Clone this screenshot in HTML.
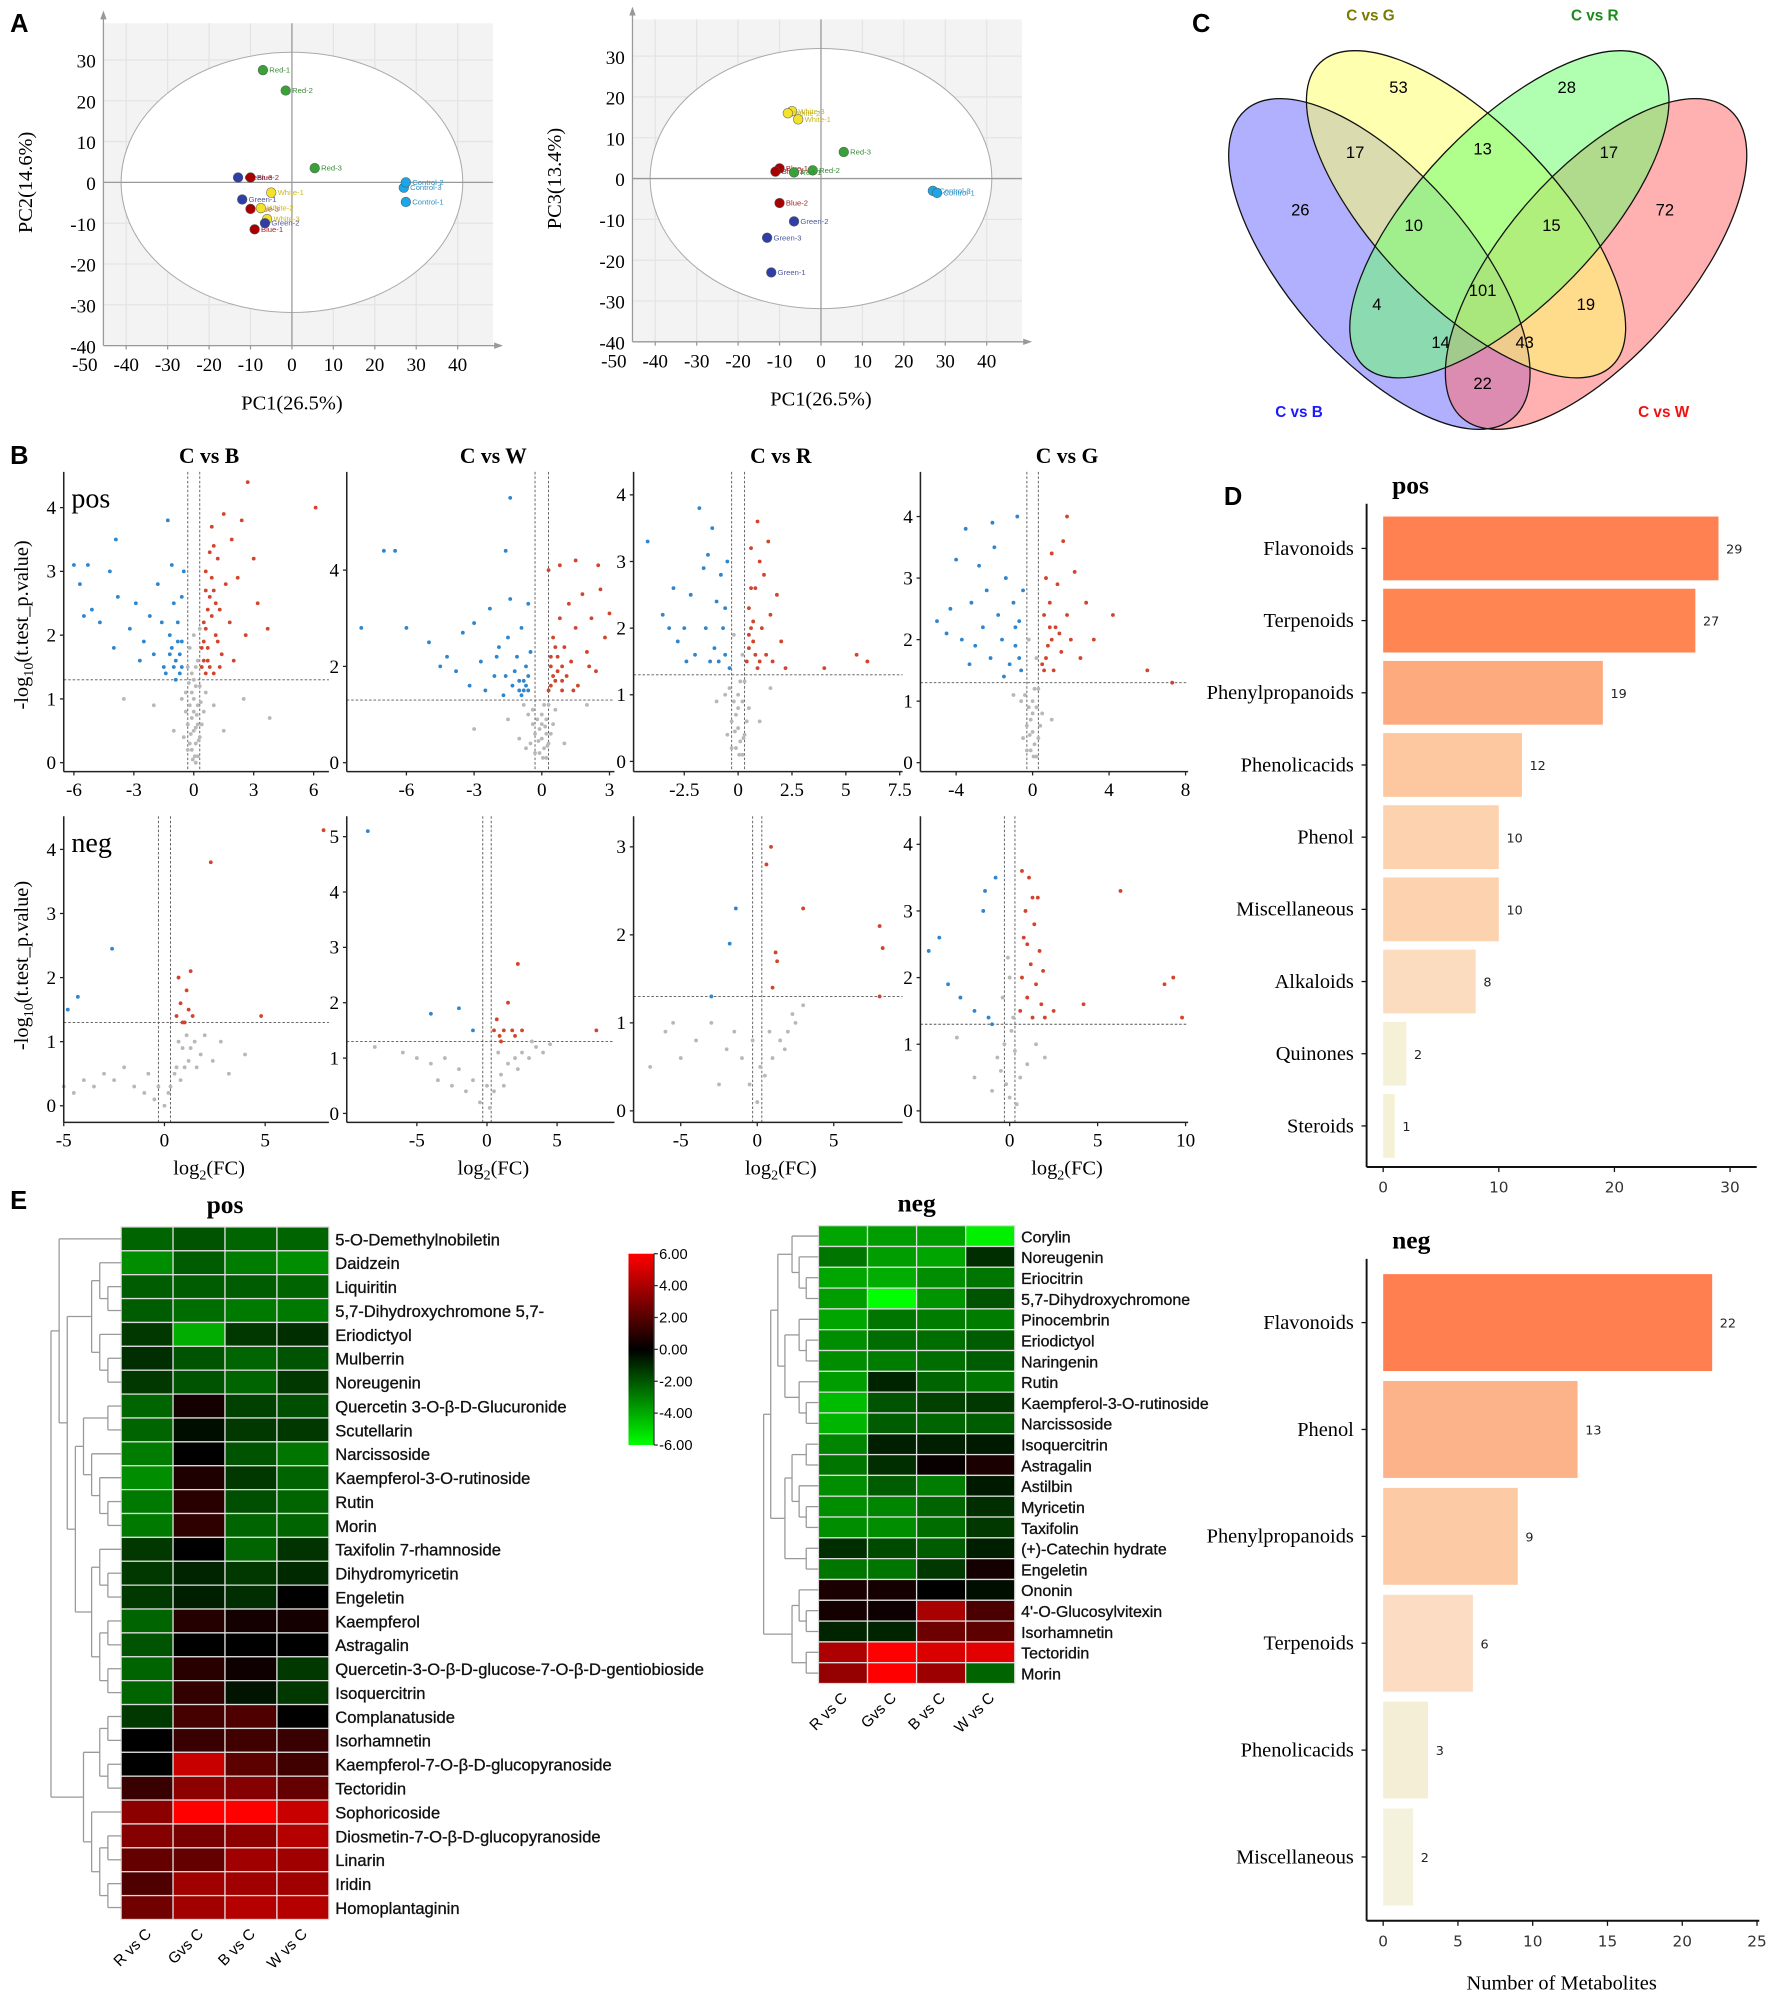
<!DOCTYPE html>
<html><head><meta charset="utf-8">
<style>
html,body{margin:0;padding:0;background:#fff;}
svg{display:block;}
</style></head>
<body>
<svg id="fig" width="1772" height="1996" viewBox="0 0 1390 1565" preserveAspectRatio="none" xmlns="http://www.w3.org/2000/svg">
<g id="root"></g>
</svg>
<script>
// ===== Panel A data =====
const pcaNames1 = ["Red-1","Red-2","Red-3","Green-3","Blue-2","Green-1","Blue-3","White-1","White-2","White-3","Green-2","Blue-1","Control-3","Control-2","Control-1"];
const pcaX1 = [-7,-1.5,5.5,-13,-10,-12,-10,-5,-7.5,-6,-6.5,-9,27,27.5,27.5];
const pcaY1 = [27.5,22.5,3.5,1.2,1.2,-4.2,-6.5,-2.5,-6.3,-9,-10,-11.5,-1.3,0,-4.8];
const pcaNames2 = ["White-3","White-2","White-1","Red-3","Red-2","Blue-1","Blue-3","Red-1","Blue-2","Green-2","Green-3","Green-1","Control-3","Control-1"];
const pcaX2 = [-7,-8,-5.5,5.5,-2,-10,-11,-6.5,-10,-6.5,-13,-12,27,28];
const pcaY2 = [16.5,16,14.5,6.5,2,2.5,1.7,1.5,-6,-10.5,-14.5,-23,-3,-3.5];

// ===== Panel C (Venn) counts =====
const vennCounts = [53,28,17,13,17,26,72,10,15,101,4,19,14,43,22];

// ===== Panel B volcano data (log2FC, -log10 p) =====
const vTB_up = [0.4,1.5,0.5,2.2,0.6,3.0,0.7,1.8,0.8,2.6,0.9,3.7,1,1.4,1.1,2.0,1.2,3.2,1.3,2.4,1.4,1.7,1.5,3.9,1.6,2.8,1.8,2.2,1.9,3.5,2,1.6,2.2,2.9,2.4,3.8,2.6,2.0,3,3.2,3.2,2.5,0.5,1.6,0.7,2.4,0.6,1.4,1,3.4,2.7,4.4,3.7,2.1,6.1,4.0,0.8,1.5,1.2,1.9,0.9,2.9,0.5,1.9,0.6,2.1,0.7,1.6,0.9,2.3,1.0,2.7,0.4,1.8,0.8,3.3,1.1,2.5,0.6,2.7,1.3,1.5];
const vTB_down = [-6,3.1,-5.7,2.8,-5.3,3.1,-5.1,2.4,-4.7,2.2,-4.2,3.0,-3.8,2.6,-3.9,3.5,-3.2,2.1,-2.9,2.5,-2.5,1.9,-2.2,2.3,-2,1.7,-1.8,2.8,-1.6,2.2,-1.5,1.5,-1.3,3.8,-1.2,2.0,-1.1,1.8,-1,2.5,-0.9,1.6,-0.8,2.2,-0.7,1.4,-0.6,1.9,-0.5,3.0,-1.4,1.4,-0.9,1.3,-2.7,1.6,-4,1.8,-0.6,2.6,-5.5,2.3,-1.1,3.1,-0.7,1.7,-0.8,1.9,-1.0,1.5,-1.2,1.7,-0.6,1.5];
const vTB_ns = [-0.3,0.2,0,0.5,0.2,0.9,-0.4,1.1,0.1,0.3,-0.1,0.7,0.3,1.2,-0.2,0.9,0.4,0.6,-0.5,0.4,0,1.0,0.2,0.1,-0.1,0.2,0.1,1.2,-0.3,0.6,0.5,0.8,-0.6,1.0,0.3,0.4,0,0.8,-0.2,0.3,0.6,1.1,-0.4,0.8,0.2,0.6,0.1,0.0,-0.1,1.1,0.1,1.5,-0.2,1.8,0,2.0,0.2,1.6,-0.1,1.4,0.3,2.1,-0.3,1.5,1.5,0.5,-3.5,1.0,-2,0.9,2.5,1.0,3.8,0.7,1,0.9,-1,0.5,0.05,0.1,-0.15,0.45,0.25,0.35,0.15,0.75,-0.25,1.25,0.35,0.95,0,1.3,-0.05,0.05,0.1,0.55];
const vTW_up = [0.3,1.5,0.4,2.0,0.5,2.6,0.6,1.7,0.7,2.2,0.8,3.0,0.9,1.5,1.0,2.4,1.1,1.8,1.2,3.3,1.3,2.1,1.5,2.8,1.6,1.6,1.8,3.5,2,2.3,2.2,3.0,2.4,1.9,2.6,3.6,2.8,2.6,3,3.1,0.4,1.6,0.6,2.4,0.9,2.0,1.4,1.5,2.1,2.0,0.3,4.0,0.8,4.1,1.5,4.2,2.5,4.1,0.5,1.8,0.7,1.9,0.9,1.7,0.4,2.2];
const vTW_down = [-8,2.8,-7,4.4,-6.5,4.4,-6,2.8,-5,2.5,-4.2,2.2,-3.8,1.9,-3.5,2.7,-3.2,1.6,-3,2.9,-2.7,2.1,-2.5,1.5,-2.3,3.2,-2.1,1.8,-1.9,2.4,-1.7,1.4,-1.5,2.6,-1.4,3.4,-1.2,1.9,-1.1,2.2,-1,1.5,-0.9,2.8,-0.8,1.7,-0.7,2.0,-0.6,1.5,-0.5,2.3,-1.3,1.6,-2.0,2.2,-0.6,3.3,-0.9,1.4,-1.6,1.8,-1.4,5.5,-1.6,4.4,-4.5,2.0,-0.7,1.6,-0.8,1.5,-0.6,1.8,-1.0,1.7];
const vTW_ns = [-0.3,0.2,0,0.5,0.2,0.9,-0.4,1.1,0.1,0.3,-0.1,0.7,0.3,1.2,-0.2,0.9,0.4,0.6,-0.5,0.4,0,1.0,0.2,0.1,-0.1,0.2,0.1,1.2,-0.3,0.6,0.5,0.8,-0.6,1.0,0.3,0.4,0,0.8,-0.7,0.3,0.6,1.1,-0.4,0.8,0.2,0.6,-1,0.5,-1.5,0.9,1,0.4,-3,0.7,2,1.2,-0.8,1.2,0.05,0.1,-0.15,0.45,0.25,0.35,0.15,0.75];
const vTR_up = [0.4,1.5,0.5,2.3,0.6,3.2,0.7,1.8,0.8,2.6,0.9,1.4,1,3.0,1.1,2.0,1.2,2.8,1.3,1.6,1.4,3.3,1.5,2.2,1.6,1.5,1.8,2.5,2,1.8,0.5,1.7,0.7,2.1,1.0,1.5,4,1.4,5.5,1.6,6,1.5,0.9,3.6,2.2,1.4,0.6,2.0,0.5,1.9,0.8,1.6,0.6,2.6];
const vTR_down = [-4.2,3.3,-3.5,2.2,-3.2,2.0,-3,2.6,-2.8,1.8,-2.5,2.0,-2.2,2.5,-2,1.6,-1.8,3.8,-1.6,2.9,-1.5,2.0,-1.4,3.1,-1.2,3.5,-1.1,1.7,-1,2.4,-0.9,1.5,-0.8,2.8,-0.7,2.0,-0.6,1.6,-0.5,3.0,-0.4,1.4,-1.3,1.5,-2.4,1.5,-0.6,2.3];
const vTR_ns = [-0.3,0.2,0,0.5,0.2,0.9,-0.4,1.1,0.1,0.3,-0.1,0.7,0.3,1.2,-0.2,0.9,0.4,0.6,-0.5,0.4,0,1.0,0.2,0.1,-0.1,0.2,0.1,1.2,-0.3,0.6,0.5,0.8,-0.6,1.0,0.3,0.4,0,0.8,1,0.6,-1,0.9,1.5,1.1,0.2,1.6,-0.2,1.9,0.05,0.1,-0.15,0.45,0.25,0.35];
const vTG_up = [0.5,1.6,0.6,2.4,0.7,3.0,0.8,1.9,0.9,2.6,1,3.4,1.1,1.5,1.2,2.2,1.3,2.9,1.5,1.8,1.6,3.6,1.8,2.4,2,2.0,2.2,3.1,2.5,1.7,2.8,2.6,3.2,2.0,4.2,2.4,6,1.5,7.3,1.3,0.6,1.5,1.4,2.1,1.0,2.0,1.8,4.0,0.7,1.7,0.9,2.2];
const vTG_down = [-5,2.3,-4.5,2.1,-4.3,2.5,-4,3.3,-3.7,2.0,-3.5,3.8,-3.2,2.6,-3,1.9,-2.8,3.2,-2.6,2.2,-2.4,2.8,-2.2,1.7,-2,3.5,-1.8,2.4,-1.6,2.0,-1.4,3.0,-1.2,1.6,-1,2.6,-0.9,1.9,-0.8,4.0,-0.7,2.3,-0.6,1.5,-0.5,2.8,-1.5,1.4,-3.3,1.6,-2.1,3.9,-0.7,1.7,-0.9,2.2];
const vTG_ns = [-0.3,0.2,0,0.5,0.2,0.9,-0.4,1.1,0.1,0.3,-0.1,0.7,0.3,1.2,-0.2,0.9,0.4,0.6,-0.5,0.4,0,1.0,0.2,0.1,-0.1,0.2,0.1,1.2,-0.3,0.6,0.5,0.8,-0.6,1.0,0.3,0.4,0,0.8,1,0.7,-1,1.1,0.2,1.7,-0.2,2.0,0.05,0.1,-0.15,0.45];
const vBB_up = [0.6,1.4,0.7,2.0,0.8,1.6,1,1.3,1.1,1.8,1.2,1.5,1.3,2.1,1.4,1.4,2.3,3.8,4.8,1.4,7.9,4.3,0.9,1.3];
const vBB_down = [-4.8,1.5,-4.3,1.7,-2.6,2.45];
const vBB_ns = [-5,0.3,-4.5,0.2,-4,0.4,-3.5,0.3,-3,0.5,-2.5,0.4,-2,0.6,-1.5,0.3,-1,0.2,-0.5,0.1,0,0.0,0.3,0.3,0.6,0.6,0.9,0.9,1.2,0.7,1.5,1.0,1.8,0.8,2,1.1,2.4,0.7,2.8,1.0,3.2,0.5,4,0.8,0.2,0.2,0.5,0.5,0.8,0.4,1,0.6,1.3,0.9,1.6,0.6,-0.3,0.3,-0.8,0.5,1.1,1.1,0.7,1.0];
const vBW_up = [0.5,1.5,0.7,1.7,0.9,1.4,1.2,1.5,1.5,2.0,1.8,1.5,2.2,2.7,2.5,1.5,7.8,1.5,1.0,1.3,2.0,1.4];
const vBW_down = [-8.5,5.1,-4,1.8,-2,1.9,-1,1.5];
const vBW_ns = [-8,1.2,-6,1.1,-5,1.0,-4,0.9,-3,1.0,-2,0.8,-1,0.6,0,0.5,0.5,0.4,1,0.7,1.5,0.9,2,1.0,2.5,1.1,3,1.0,3.5,1.2,4,1.1,-0.5,0.2,0.2,0.1,-1.5,0.4,-2.5,0.5,1.2,0.5,2.2,0.8,0.8,1.1,-3.5,0.6,3.2,1.3,4.5,1.25];
const vBR_up = [0.6,2.8,0.9,3.0,1,1.4,1.2,1.8,1.3,1.7,3,2.3,8,2.1,8.2,1.85,8,1.3];
const vBR_down = [-3,1.3,-1.8,1.9,-1.4,2.3];
const vBR_ns = [-7,0.5,-6,0.9,-5.5,1.0,-5,0.6,-4,0.8,-3,1.0,-2,0.7,-1,0.6,-0.5,0.3,0,0.1,0.5,0.4,1,0.6,1.5,0.8,2,0.9,2.5,1.0,3,1.2,0.8,0.9,1.8,0.7,-1.5,0.9,-2.5,0.3,2.3,1.1,0.2,0.5,-0.3,0.8];
const vBG_up = [0.6,1.5,0.7,2.0,0.8,2.6,0.9,3.0,1,1.7,1.1,3.5,1.2,2.2,1.3,1.4,1.4,2.8,1.5,1.9,1.6,3.2,1.7,2.4,1.8,1.6,1.9,2.1,2,1.4,0.7,3.6,1,2.5,1.3,3.2,6.3,3.3,8.8,1.9,9.3,2.0,9.8,1.4,4.2,1.6,2.5,1.5];
const vBG_down = [-4.6,2.4,-4,2.6,-3.5,1.9,-2.8,1.7,-2,1.5,-1.5,3.0,-1.4,3.3,-1,1.3,-0.8,3.5,-1.2,1.4];
const vBG_ns = [-1,0.3,-0.5,0.6,0,0.2,0.3,0.9,0.6,0.5,-0.3,1.0,0.1,1.2,-0.7,0.8,1,0.7,1.5,1.0,2,0.8,-2,0.5,-3,1.1,0.4,0.1,-0.2,0.4,0.2,1.4,-0.4,1.7,0,2.0,-0.1,2.3];

// ===== Panel D bar data =====
const posCats = ["Flavonoids","Terpenoids","Phenylpropanoids","Phenolicacids","Phenol","Miscellaneous","Alkaloids","Quinones","Steroids"];
const posVals = [29,27,19,12,10,10,8,2,1];
const posTicks = [0,10,20,30];
const negCats = ["Flavonoids","Phenol","Phenylpropanoids","Terpenoids","Phenolicacids","Miscellaneous"];
const negVals = [22,13,9,6,3,2];
const negTicks = [0,5,10,15,20,25];

// ===== Panel E heatmap data =====
const hmCols = ["R vs C","Gvs C","B vs C","W vs C"];
const hmPosRows = ["5-O-Demethylnobiletin","Daidzein","Liquiritin","5,7-Dihydroxychromone 5,7-","Eriodictyol","Mulberrin","Noreugenin","Quercetin 3-O-β-D-Glucuronide","Scutellarin","Narcissoside","Kaempferol-3-O-rutinoside","Rutin","Morin","Taxifolin 7-rhamnoside","Dihydromyricetin","Engeletin","Kaempferol","Astragalin","Quercetin-3-O-β-D-glucose-7-O-β-D-gentiobioside","Isoquercitrin","Complanatuside","Isorhamnetin","Kaempferol-7-O-β-D-glucopyranoside","Tectoridin","Sophoricoside","Diosmetin-7-O-β-D-glucopyranoside","Linarin","Iridin","Homoplantaginin"];
const hmPosVals = [
[-2,-1.6,-2,-2],[-3,-1.8,-2.6,-3],[-1.8,-1.8,-1.8,-2],[-1.8,-2.2,-2.5,-2.5],[-1,-3.8,-1,-0.8],
[-0.8,-1.6,-2,-1.6],[-1,-1.6,-2,-1],[-2,0.3,-1.2,-1.5],[-2,-0.2,-1,-1],[-2.6,0,-1.6,-2.4],
[-3,0.5,-1,-2],[-2.5,0.7,-1.5,-2],[-2.5,0.8,-2,-2],[-1,0,-2,-0.9],[-1,-0.6,-1,-0.7],
[-1,-0.5,-0.8,0],[-2,0.6,0.3,0.3],[-1.6,0,0,0],[-2,0.7,0.2,-1],[-2,0.9,-0.3,-1],
[-1,1.3,1.5,0],[0,1,1.2,1],[0,4.5,1.8,1.2],[1,3,2.8,2],[3,6,6,4.5],
[2.8,2.5,3,4],[2,2,3.5,3.5],[1.5,3.5,3.5,3.5],[2.3,3.5,4,4]];
const hmNegRows = ["Corylin","Noreugenin","Eriocitrin","5,7-Dihydroxychromone","Pinocembrin","Eriodictyol","Naringenin","Rutin","Kaempferol-3-O-rutinoside","Narcissoside","Isoquercitrin","Astragalin","Astilbin","Myricetin","Taxifolin","(+)-Catechin hydrate","Engeletin","Ononin","4'-O-Glucosylvitexin","Isorhamnetin","Tectoridin","Morin"];
const hmNegVals = [
[-3.6,-3.4,-3.4,-5.6],[-2.4,-3.4,-3.6,-0.8],[-3.6,-3.8,-3,-2.4],[-3.4,-6,-3.2,-1.6],[-3.6,-2.4,-2.6,-2.6],
[-3,-2.2,-2.2,-1.8],[-3,-2.6,-2.2,-1.8],[-3.4,-0.6,-2,-2.4],[-4.2,-1.6,-1.2,-1],[-4,-1.8,-2,-1.8],
[-2.8,-0.5,-0.5,-0.4],[-2.4,-0.8,0.1,0.4],[-3,-1.8,-2.6,-0.4],[-3,-2.8,-2,-0.8],[-3,-3,-2.2,-1],
[-0.8,-1.4,-1.8,-0.5],[-2.4,-2.4,-1,0.3],[0.4,0.3,0,-0.2],[0.3,0.2,3.7,1.4],[-0.6,-0.6,2.2,1.8],
[3.8,6,5,5.2],[3.2,6,3.4,-2]];
const dendPos = [[0,[[[1,[2,3]],[4,[5,6]]],[[[7,8],[9,[10,[11,12]]]],[[13,[14,15]],[[16,17],[18,19]]]]]],[[[20,21],[22,23]],[24,[[25,26],[27,28]]]]];
const dendNeg = [[[[0,[1,[2,3]]],[[4,[5,6]],[[7,[8,9]]]]],[[[10,11],[12,[13,14]]],[15,16]]],[[17,[18,19]],[20,21]]];
const cbTicks = ["6.00","4.00","2.00","0.00","-2.00","-4.00","-6.00"];

// ===== helpers =====
const NS="http://www.w3.org/2000/svg";
const root=document.getElementById('root');
function el(tag,attrs,parent,text){const e=document.createElementNS(NS,tag);for(const k in attrs)e.setAttribute(k,attrs[k]);if(text!==undefined)e.textContent=text;(parent||root).appendChild(e);return e;}
function grp(name,parent){const g=el('g',{},parent);


return g;}
function txt(parent,x,y,s,opts){const t=el('text',Object.assign({x:x,y:y},opts||{}),parent,s);return t;}

// panel letters
[["A",8,25],["B",8,364],["C",935,25],["D",960,396],["E",8,948]].forEach(([l,x,y])=>{
 const t=txt(root,x,y,l,{'font-family':'Liberation Sans, sans-serif','font-weight':'bold','font-size':20});
 
 
});

// ===== PCA =====
const pcaColor={Red:'#3aa03a',Green:'#2f3fa8',Blue:'#a80000',White:'#f3e22a',Control:'#1aa6e8'};
const pcaTxt={Red:'#3a8a3a',Green:'#4a56a0',Blue:'#a02020',White:'#c8b820',Control:'#2a90c8'};
function pca(ox,yZero,names,xs,ys,ylab,name){
 const g=grp(name);
 const sx=v=>ox+v*3.25, sy=v=>yZero-v*3.2;
 const left=sx(-45.5),right=sx(48.5),top=sy(39),bot=sy(-40);
 el('rect',{x:left,y:top,width:right-left,height:bot-top,fill:'#f3f3f3'},g);
 for(let v=-40;v<=40;v+=10){el('line',{x1:sx(v),x2:sx(v),y1:top,y2:bot,stroke:'#e4e4e4','stroke-width':1},g);}
 for(let v=-40;v<=30;v+=10){el('line',{x1:left,x2:right,y1:sy(v),y2:sy(v),stroke:'#e4e4e4','stroke-width':1},g);}
 el('ellipse',{cx:sx(0),cy:sy(0),rx:134,ry:102,fill:'#fff',stroke:'#aaa','stroke-width':0.8},g);
 el('line',{x1:sx(0),x2:sx(0),y1:top,y2:bot,stroke:'#999','stroke-width':1},g);
 el('line',{x1:left,x2:right,y1:sy(0),y2:sy(0),stroke:'#999','stroke-width':1},g);
 el('line',{x1:left,x2:left,y1:top-6,y2:bot,stroke:'#999','stroke-width':1},g);
 el('line',{x1:left,x2:right+4,y1:bot,y2:bot,stroke:'#999','stroke-width':1},g);
 el('path',{d:`M${right+8},${bot} l-7,-2.5 v5 z`,fill:'#999'},g);
 el('path',{d:`M${left},${top-10} l-2.5,7 h5 z`,fill:'#999'},g);
 for(let v=-50;v<=40;v+=10){txt(g,sx(v),bot+20,String(v),{'text-anchor':'middle','font-family':'Liberation Serif, serif','font-size':15});
  el('line',{x1:sx(v),x2:sx(v),y1:bot,y2:bot+3,stroke:'#999'},g);}
 for(let v=-40;v<=30;v+=10){txt(g,left-6,sy(v)+6,String(v),{'text-anchor':'end','font-family':'Liberation Serif, serif','font-size':15});}
 txt(g,sx(0),bot+50,'PC1(26.5%)',{'text-anchor':'middle','font-family':'Liberation Serif, serif','font-size':16});
 txt(g,0,0,ylab,{'text-anchor':'middle','font-family':'Liberation Serif, serif','font-size':16,transform:`translate(${left-56},${sy(0)}) rotate(-90)`});
 names.forEach((n,i)=>{const grpn=n.split('-')[0];
  const c=el('circle',{cx:sx(xs[i]),cy:sy(ys[i]),r:3.8,fill:pcaColor[grpn],stroke:'#555','stroke-width':0.4},g);
  
  
  txt(g,sx(xs[i])+5,sy(ys[i])+2,n,{'font-family':'Liberation Sans, sans-serif','font-size':6,fill:pcaTxt[grpn]});
 });
}
pca(229,143,pcaNames1,pcaX1,pcaY1,'PC2(14.6%)','pca-plot-pc1-pc2');
pca(644,140,pcaNames2,pcaX2,pcaY2,'PC3(13.4%)','pca-plot-pc1-pc3');

// ===== Venn =====
(function(){
 const g=grp('venn-diagram');
 const ells=[['c-vs-b',1082,207,160,72,49,'#6f6fff'],['c-vs-w',1252,207,160,72,-49,'#ff6f6f'],['c-vs-g',1150,168,165,70,46,'#ffff70'],['c-vs-r',1184,168,165,70,-46,'#6fff6f']];
 ells.forEach(e=>{const x=el('ellipse',{cx:e[1],cy:e[2],rx:e[3],ry:e[4],transform:`rotate(${e[5]} ${e[1]} ${e[2]})`,fill:e[6],'fill-opacity':0.55,stroke:'none'},g);
  
  });
 ells.forEach(e=>{el('ellipse',{cx:e[1],cy:e[2],rx:e[3],ry:e[4],transform:`rotate(${e[5]} ${e[1]} ${e[2]})`,fill:'none',stroke:'#111','stroke-width':1},g);});
 const pos=[[1097,68],[1229,68],[1063,119],[1163,116],[1262,119],[1020,164],[1306,164],[1109,176],[1217,176],[1163,227],[1080,238],[1244,238],[1130,268],[1196,268],[1163,300]];
 vennCounts.forEach((c,i)=>{const t=txt(g,pos[i][0],pos[i][1]+5,String(c),{'text-anchor':'middle','font-family':'Liberation Sans, sans-serif','font-size':13});
  
  });
 [["C vs G",1075,16,'#7a7a00'],["C vs R",1251,16,'#1a8a1a'],["C vs B",1019,327,'#1a1aff'],["C vs W",1305,327,'#ee1111']].forEach(l=>{
  const t=txt(g,l[1],l[2],l[0],{'text-anchor':'middle','font-family':'Liberation Sans, sans-serif','font-size':12,'font-weight':'bold',fill:l[3]});
  
  });
})();

// ===== Volcano =====
function volcano(cfg){
 const g=grp(cfg.name);
 const sx=v=>cfg.x0+v*cfg.kx, sy=v=>cfg.y0-v*cfg.ky;
 const L=cfg.L,R=cfg.R,T=cfg.T,B=cfg.B;
 const dash={stroke:'#555','stroke-width':0.7,'stroke-dasharray':'2,1.5',fill:'none'};
 el('line',Object.assign({x1:sx(-0.3),x2:sx(-0.3),y1:T,y2:B},dash),g);
 el('line',Object.assign({x1:sx(0.3),x2:sx(0.3),y1:T,y2:B},dash),g);
 el('line',Object.assign({x1:L,x2:R,y1:sy(1.3),y2:sy(1.3)},dash),g);
 function pts(arr,col,nm){for(let i=0;i<arr.length;i+=2){const c=el('circle',{cx:sx(arr[i]),cy:sy(arr[i+1]),r:1.5,fill:col},g);
  
  }}
 pts(cfg.ns,'#b8b8b8','point-ns');pts(cfg.down,'#2e86cf','point-down');pts(cfg.up,'#d2442c','point-up');
 el('line',{x1:L,x2:L,y1:T,y2:B,stroke:'#222','stroke-width':1.2},g);
 el('line',{x1:L,x2:R,y1:B,y2:B,stroke:'#222','stroke-width':1.2},g);
 cfg.xt.forEach(v=>{el('line',{x1:sx(v),x2:sx(v),y1:B,y2:B+3,stroke:'#222'},g);
  txt(g,sx(v),B+19,String(v),{'text-anchor':'middle','font-family':'Liberation Serif, serif','font-size':15});});
 cfg.yt.forEach(v=>{el('line',{x1:L,x2:L-3,y1:sy(v),y2:sy(v),stroke:'#222'},g);
  txt(g,L-6,sy(v)+5,String(v),{'text-anchor':'end','font-family':'Liberation Serif, serif','font-size':15});});
 if(cfg.title){txt(g,(L+R)/2+10,363,cfg.title,{'text-anchor':'middle','font-family':'Liberation Serif, serif','font-size':17,'font-weight':'bold'});}
 if(cfg.xlab){const t=el('text',{x:(L+R)/2+10,y:921,'text-anchor':'middle','font-family':'Liberation Serif, serif','font-size':16},g);
  t.innerHTML='log<tspan font-size="11" dy="4">2</tspan><tspan dy="-4">(FC)</tspan>';}
}
volcano({name:'volcano-pos-c-vs-b',title:'C vs B',L:50,R:258,T:370,B:605,x0:152,kx:15.67,y0:598,ky:50,xt:[-6,-3,0,3,6],yt:[0,1,2,3,4],up:vTB_up,down:vTB_down,ns:vTB_ns});
volcano({name:'volcano-pos-c-vs-w',title:'C vs W',L:272,R:482,T:370,B:605,x0:425,kx:17.7,y0:598,ky:37.75,xt:[-6,-3,0,3],yt:[0,2,4],up:vTW_up,down:vTW_down,ns:vTW_ns});
volcano({name:'volcano-pos-c-vs-r',title:'C vs R',L:497,R:708,T:370,B:605,x0:579,kx:16.9,y0:597,ky:52.25,xt:[-2.5,0,2.5,5,7.5],yt:[0,1,2,3,4],up:vTR_up,down:vTR_down,ns:vTR_ns});
volcano({name:'volcano-pos-c-vs-g',title:'C vs G',L:722,R:932,T:370,B:605,x0:810,kx:15,y0:598,ky:48.25,xt:[-4,0,4,8],yt:[0,1,2,3,4],up:vTG_up,down:vTG_down,ns:vTG_ns});
volcano({name:'volcano-neg-c-vs-b',L:50,R:258,T:640,B:880,x0:129,kx:15.8,y0:867,ky:50.25,xt:[-5,0,5],yt:[0,1,2,3,4],up:vBB_up,down:vBB_down,ns:vBB_ns,xlab:1});
volcano({name:'volcano-neg-c-vs-w',L:272,R:482,T:640,B:880,x0:382,kx:11,y0:873,ky:43.4,xt:[-5,0,5],yt:[0,1,2,3,4,5],up:vBW_up,down:vBW_down,ns:vBW_ns,xlab:1});
volcano({name:'volcano-neg-c-vs-r',L:497,R:708,T:640,B:880,x0:594,kx:12,y0:871,ky:69,xt:[-5,0,5],yt:[0,1,2,3],up:vBR_up,down:vBR_down,ns:vBR_ns,xlab:1});
volcano({name:'volcano-neg-c-vs-g',L:722,R:932,T:640,B:880,x0:792,kx:13.8,y0:871,ky:52.25,xt:[0,5,10],yt:[0,1,2,3,4],up:vBG_up,down:vBG_down,ns:vBG_ns,xlab:1});
(function(){const g=grp('volcano-labels');
 txt(g,56,398,'pos',{'font-family':'Liberation Serif, serif','font-size':22});
 txt(g,56,668,'neg',{'font-family':'Liberation Serif, serif','font-size':22});
 [490,757].forEach(cy=>{const t=el('text',{x:0,y:0,'text-anchor':'middle','font-family':'Liberation Serif, serif','font-size':16,transform:`translate(22,${cy}) rotate(-90)`},g);
  t.innerHTML='-log<tspan font-size="11" dy="4">10</tspan><tspan dy="-4">(t.test_p.value)</tspan>';});
})();

// ===== Bar charts =====
function bars(cfg){
 const g=grp(cfg.name);
 const sx=v=>cfg.x0+v*cfg.k;
 el('line',{x1:cfg.ax,x2:cfg.ax,y1:cfg.T,y2:cfg.B,stroke:'#111','stroke-width':1.5},g);
 el('line',{x1:cfg.ax,x2:cfg.R,y1:cfg.B,y2:cfg.B,stroke:'#111','stroke-width':1.5},g);
 cfg.ticks.forEach(v=>{el('line',{x1:sx(v),x2:sx(v),y1:cfg.B,y2:cfg.B+4,stroke:'#111'},g);
  txt(g,sx(v),cfg.B+20,String(v),{'text-anchor':'middle','font-family':'DejaVu Sans, sans-serif','font-size':12,fill:'#333'});});
 cfg.cats.forEach((c,i)=>{const cy=cfg.c0+i*cfg.step,v=cfg.vals[i];
  const r=el('rect',{x:sx(0),y:cy-cfg.h/2,width:sx(v)-sx(0),height:cfg.h,fill:cfg.colors[i]},g);
  
  
  el('line',{x1:cfg.ax-4,x2:cfg.ax,y1:cy,y2:cy,stroke:'#111'},g);
  txt(g,cfg.ax-10,cy+5,c,{'text-anchor':'end','font-family':'Liberation Serif, serif','font-size':16});
  txt(g,sx(v)+6,cy+4,String(v),{'font-family':'DejaVu Sans, sans-serif','font-size':10,fill:'#222'});
 });
 txt(g,cfg.ax+20,cfg.T-8,cfg.title,{'font-family':'Liberation Serif, serif','font-size':20,'font-weight':'bold'});
}
bars({name:'bar-chart-pos',title:'pos',ax:1072,x0:1085,k:9.07,T:395,B:915,R:1378,c0:430,step:56.6,h:50,cats:posCats,vals:posVals,ticks:posTicks,
 colors:['#ff8050','#ff8552','#fdaa7e','#fdc8a0','#fdd2ae','#fdd2ae','#fcdcbe','#f5f1d6','#f5f1d6']});
bars({name:'bar-chart-neg',title:'neg',ax:1072,x0:1085,k:11.73,T:987,B:1506,R:1380,c0:1037,step:83.8,h:76,cats:negCats,vals:negVals,ticks:negTicks,
 colors:['#ff7f50','#fdb38a','#fdcaa6','#fcdcc2','#f5eed6','#f4f2dc']});
(function(){const t=txt(root,1225,1560,'Number of Metabolites',{'text-anchor':'middle','font-family':'Liberation Serif, serif','font-size':16});
 
 })();

// ===== Heatmaps =====
function hmColor(v){const t=Math.max(-1,Math.min(1,v/6));const c=Math.round(Math.pow(Math.abs(t),0.85)*255);return t>=0?`rgb(${c},0,0)`:`rgb(0,${c},0)`;}
function heatmap(cfg){
 const g=grp(cfg.name);
 const n=cfg.rows.length,rh=(cfg.B-cfg.T)/n,cw=(cfg.R-cfg.L)/4;
 cfg.vals.forEach((row,i)=>row.forEach((v,j)=>{
  const r=el('rect',{x:cfg.L+j*cw,y:cfg.T+i*rh,width:cw,height:rh,fill:hmColor(v),stroke:'#ddd','stroke-width':1},g);
  
  
 }));
 cfg.rows.forEach((r,i)=>txt(g,cfg.R+5,cfg.T+i*rh+rh/2+5,r,{'font-family':'Liberation Sans, sans-serif','font-size':cfg.fs,fill:'#111',stroke:'#111','stroke-width':0.25}));
 hmCols.forEach((c,j)=>{const cx=cfg.L+j*cw+cw/2+4;txt(g,0,0,c,{'text-anchor':'end','font-family':'Liberation Sans, sans-serif','font-size':12,transform:`translate(${cx},${cfg.B+12}) rotate(-45)`});});
 txt(g,(cfg.L+cfg.R)/2,cfg.T-11,cfg.title,{'text-anchor':'middle','font-family':'Liberation Serif, serif','font-size':20,'font-weight':'bold'});
 function height(t){return Array.isArray(t)?1+Math.max(...t.map(height)):0;}
 const H=height(cfg.tree),step=(cfg.L-4-cfg.dx)/H;
 function draw(t){if(!Array.isArray(t))return {y:cfg.T+t*rh+rh/2,x:cfg.L};
  const ch=t.map(draw);const h=height(t);const x=cfg.L-4-h*step;
  const ys=ch.map(c=>c.y);
  el('line',{x1:x,x2:x,y1:Math.min(...ys),y2:Math.max(...ys),stroke:'#999','stroke-width':1},g);
  ch.forEach(c=>el('line',{x1:x,x2:c.x,y1:c.y,y2:c.y,stroke:'#999','stroke-width':1},g));
  return {y:(Math.min(...ys)+Math.max(...ys))/2,x:x};}
 draw(cfg.tree);
}
heatmap({name:'heatmap-pos',title:'pos',L:95,R:258,T:962,B:1505,rows:hmPosRows,vals:hmPosVals,tree:dendPos,dx:40,fs:13});
heatmap({name:'heatmap-neg',title:'neg',L:642,R:796,T:961,B:1320,rows:hmNegRows,vals:hmNegVals,tree:dendNeg,dx:599,fs:12.5});
(function(){const g=grp('color-scale-legend');
 const d=el('defs',{},g);const lg=el('linearGradient',{id:'cb',x1:0,y1:0,x2:0,y2:1},d);
 el('stop',{offset:'0%','stop-color':'#ff0000'},lg);el('stop',{offset:'50%','stop-color':'#000'},lg);el('stop',{offset:'100%','stop-color':'#00ff00'},lg);
 el('rect',{x:493,y:983,width:20,height:150,fill:'url(#cb)'},g);
 el('line',{x1:513,x2:513,y1:983,y2:1133,stroke:'#333'},g);
 cbTicks.forEach((t,i)=>{const y=983+i*25;el('line',{x1:513,x2:516,y1:y,y2:y,stroke:'#333'},g);
  txt(g,517,y+4,t,{'font-family':'Liberation Sans, sans-serif','font-size':11.5});});
})();
</script>
</body></html>
